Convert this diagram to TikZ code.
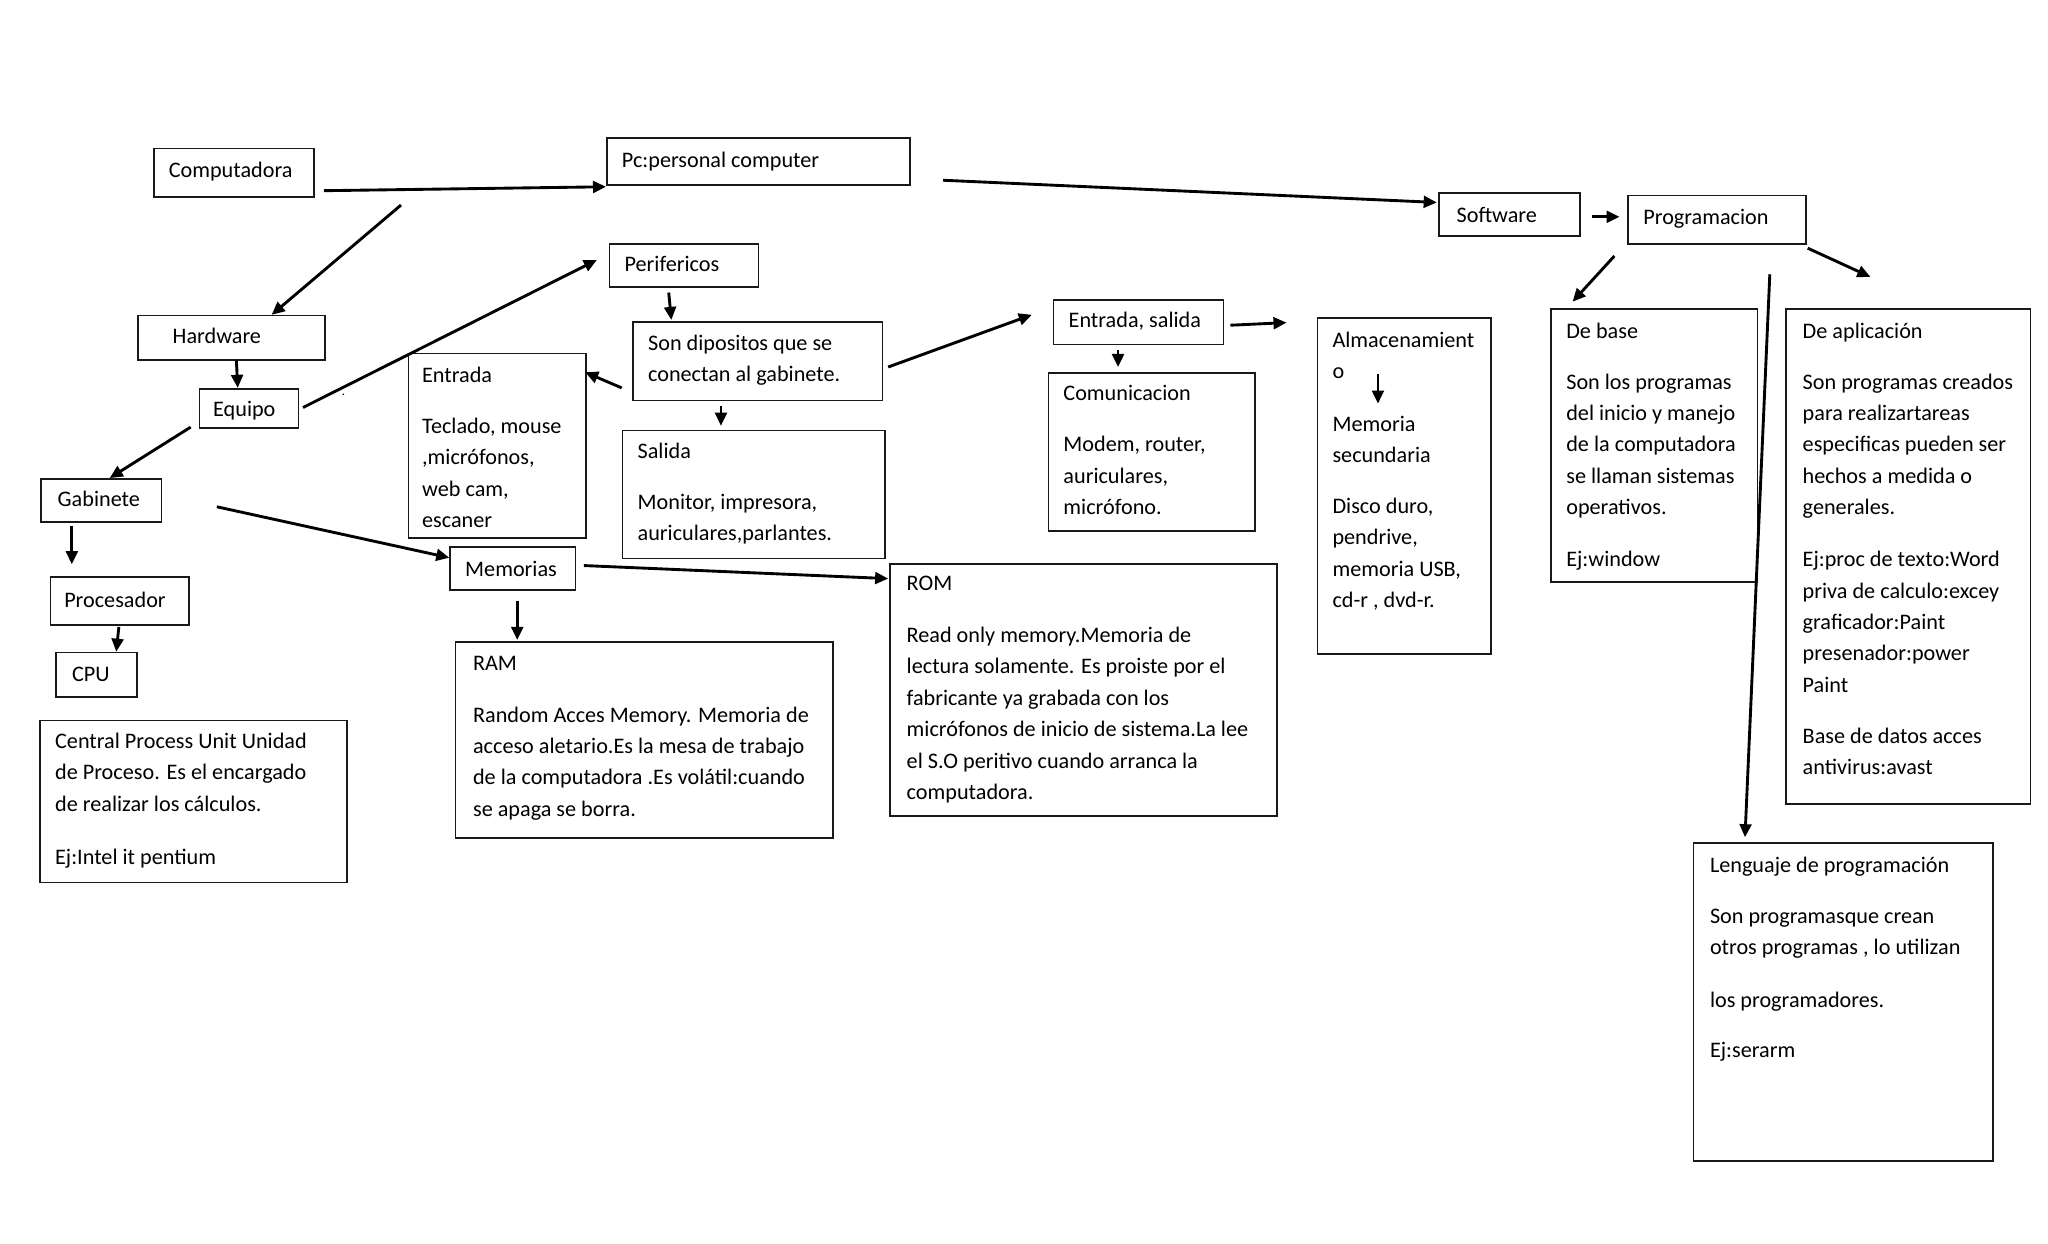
\documentclass[tikz,border=0pt]{standalone}
\usepackage{fontspec}
\setmainfont{Carlito}
\usetikzlibrary{arrows.meta,calc}
\newcommand\mybox[5]{\node[box,minimum width={(#4-#2)*1pt},minimum height={(#5-#3)*1pt}] (#1) at (#2,#3) {};}
\newcommand\mylines[1]{\begin{tabular}[t]{@{}l@{}}#1\end{tabular}}
\begin{document}
\begin{tikzpicture}[x=1pt,y=-1pt,
  box/.style={draw=black!90,line width=1.3pt,anchor=north west,inner sep=0pt},
  txt/.style={anchor=base west,inner sep=0pt,font=\fontsize{17}{24}\selectfont,text=black},
  arr/.style={line width=2.2pt,draw=black,-{Triangle[length=10pt,width=9pt]}}]
\useasboundingbox[fill=white] (0,0) rectangle (1568,952);

% boxes
\mybox{comp}{117}{113}{240}{150}
\mybox{pc}{464}{105}{696}{141}
\mybox{soft}{1101}{147}{1209}{180}
\mybox{prog}{1246}{149}{1382}{186}
\mybox{base}{1187}{236}{1345}{445}
\mybox{apli}{1367}{236}{1554}{615}
\mybox{leng}{1296}{645}{1525}{888}
\mybox{hard}{105}{241}{248}{275}
\mybox{equi}{152}{297}{228}{327}
\mybox{gabi}{31}{366}{123}{399}
\mybox{proc}{38}{441}{144}{478}
\mybox{cpu}{42}{499}{104}{533}
\mybox{cent}{30}{551}{265}{675}
\mybox{memo}{344}{418}{440}{451}
\mybox{ram}{348}{491}{637}{641}
\mybox{rom}{681}{431}{977}{624}
\mybox{peri}{466}{186}{580}{219}
\mybox{son}{484}{246}{675}{306}
\mybox{entr}{312}{270}{448}{411}
\mybox{sali}{476}{329}{677}{427}
\mybox{es}{806}{229}{936}{263}
\mybox{comu}{802}{285}{960}{406}
\mybox{alma}{1008}{243}{1141}{500}

% texts
\node[txt] (comp-t) at (129,136) {Computadora};
\node[txt] (pc-t) at (476,128) {Pc:personal computer};
\node[txt] (soft-t) at (1115,170) {Software};
\node[txt] (prog-t) at (1258,172) {Programacion};
\node[txt] (base-t) at (1199,259) {\mylines{De base\\[15pt]Son los programas\\del inicio y manejo\\de la computadora\\se llaman sistemas\\operativos.\\[16pt]Ej:window}};
\node[txt] (apli-t) at (1380,259) {\mylines{De aplicación\\[15pt]Son programas creados\\para realizartareas\\especificas pueden ser\\hechos a medida o\\generales.\\[16pt]Ej:proc de texto:Word\\priva de calculo:excey\\graficador:Paint\\presenador:power\\Paint\\[15pt]Base de datos acces\\antivirus:avast}};
\node[txt] (leng-t) at (1309,668) {\mylines{Lenguaje de programación\\[15pt]Son programasque crean\\otros programas , lo utilizan\\[16pt]los programadores.\\[15pt]Ej:serarm}};
\node[txt] (hard-t) at (132,263) {Hardware};
\node[txt] (equi-t) at (163,319) {Equipo};
\node[txt] (gabi-t) at (44,388) {Gabinete};
\node[txt] (proc-t) at (49,465) {Procesador};
\node[txt] (cpu-t) at (55,522) {CPU};
\node[txt] (cent-t) at (42,573) {\mylines{Central Process Unit Unidad\\de Proceso. Es el encargado\\de realizar los cálculos.\\[17pt]Ej:Intel it pentium}};
\node[txt] (memo-t) at (356,441) {Memorias};
\node[txt] (ram-t) at (362,513) {\mylines{RAM\\[16pt]Random Acces Memory. Memoria de\\acceso aletario.Es la mesa de trabajo\\de la computadora .Es volátil:cuando\\se apaga se borra.}};
\node[txt] (rom-t) at (694,452) {\mylines{ROM\\[16pt]Read only memory.Memoria de\\lectura solamente. Es proiste por el\\fabricante ya grabada con los\\micrófonos de inicio de sistema.La lee\\el S.O peritivo cuando arranca la\\computadora.}};
\node[txt] (peri-t) at (478,208) {Perifericos};
\node[txt] (son-t) at (496,268) {\mylines{Son dipositos que se\\conectan al gabinete.}};
\node[txt] (entr-t) at (323,293) {\mylines{Entrada\\[15pt]Teclado, mouse\\,micrófonos,\\web cam,\\escaner}};
\node[txt] (sali-t) at (488,351) {\mylines{Salida\\[15pt]Monitor, impresora,\\auriculares,parlantes.}};
\node[txt] (es-t) at (818,251) {Entrada, salida};
\node[txt] (comu-t) at (814,307) {\mylines{Comunicacion\\[15pt]Modem, router,\\auriculares,\\micrófono.}};
\node[txt] (alma-t) at (1020,266) {\mylines{Almacenamient\\o\\[16pt]Memoria\\secundaria\\[15pt]Disco duro,\\pendrive,\\memoria USB,\\cd-r , dvd-r.}};
\node[inner sep=0pt,font=\fontsize{10}{10}\selectfont] (dot) at (263,302) {.};

% connector end points
\coordinate (a1s) at (248,146);  \coordinate (a1e) at (464,143);
\coordinate (a2s) at (307,157);  \coordinate (a2e) at (208,241);
\coordinate (a3s) at (722,138);  \coordinate (a3e) at (1100,155);
\coordinate (a4s) at (1219,166); \coordinate (a4e) at (1240,166);
\coordinate (a5s) at (1236,196); \coordinate (a5e) at (1204,231);
\coordinate (a6s) at (1384,190); \coordinate (a6e) at (1432,212);
\coordinate (a7s) at (1355,210); \coordinate (a7e) at (1336,641);
\coordinate (a8s) at (181,276);  \coordinate (a8e) at (182,297);
\coordinate (a9s) at (232,312);  \coordinate (a9e) at (457,199);
\coordinate (a10s) at (146,327); \coordinate (a10e) at (84,366);
\coordinate (a11s) at (55,403);  \coordinate (a11e) at (55,432);
\coordinate (a12s) at (91,480);  \coordinate (a12e) at (89,499);
\coordinate (a13s) at (166,388); \coordinate (a13e) at (344,427);
\coordinate (a14s) at (396,460); \coordinate (a14e) at (396,490);
\coordinate (a15s) at (447,433); \coordinate (a15e) at (680,443);
\coordinate (a16s) at (512,224); \coordinate (a16e) at (514,245);
\coordinate (a17s) at (476,297); \coordinate (a17e) at (448,285);
\coordinate (a18s) at (552,311); \coordinate (a18e) at (552,326);
\coordinate (a19s) at (680,281); \coordinate (a19e) at (790,241);
\coordinate (a20s) at (856,268); \coordinate (a20e) at (856,281);
\coordinate (a21s) at (942,249); \coordinate (a21e) at (985,247);
\coordinate (a22s) at (1055,286); \coordinate (a22e) at (1055,309);

\foreach \i in {1,...,22} {\draw[arr] (a\i s) -- (a\i e);}
\end{tikzpicture}
\end{document}
